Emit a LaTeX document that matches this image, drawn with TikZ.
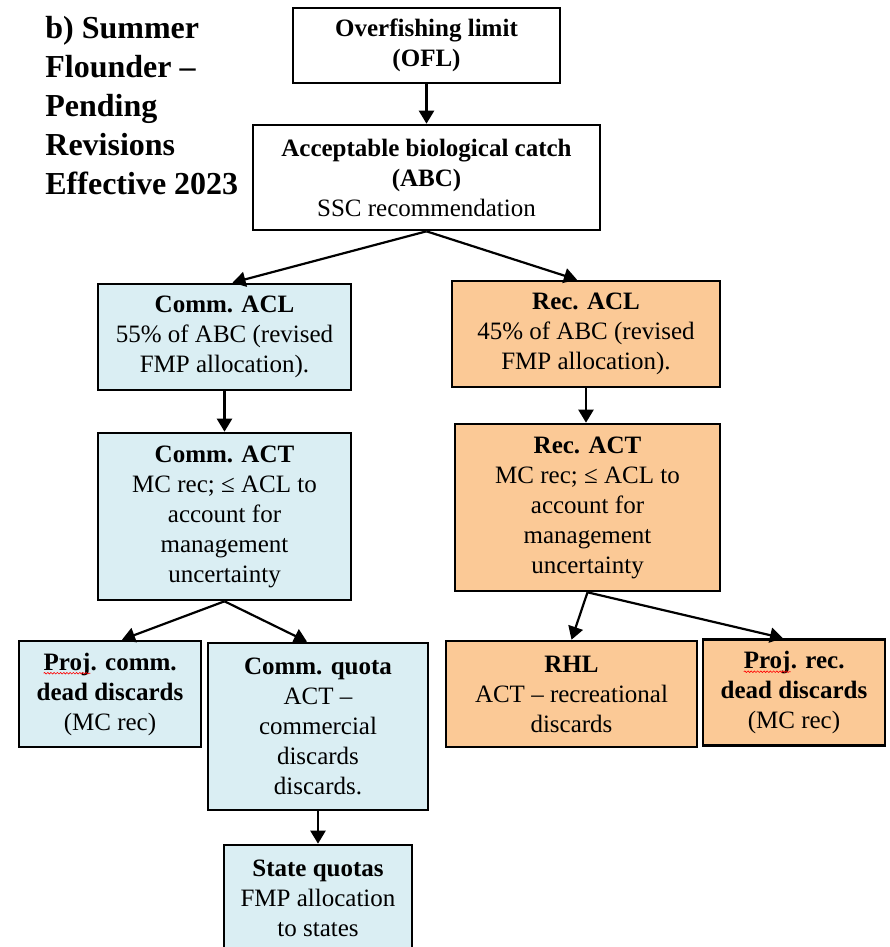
\documentclass[tikz,border=0pt]{standalone}
\usepackage{fontspec}
\setmainfont{Liberation Serif}
\usetikzlibrary{arrows.meta,calc,decorations.pathmorphing}
\definecolor{commblue}{HTML}{DAEEF3}
\definecolor{recorange}{HTML}{FBC996}
\newcommand\spellwave[1]{\tikz[baseline=(w.base)]{\node[inner sep=0pt, outer sep=0pt, draw=none, fill=none, minimum size=0pt] (w) {#1};
    \draw[red, line width=0.3pt, decorate, decoration={snake, amplitude=0.4pt, segment length=1.6pt}] ([yshift=-1.6pt]w.base west) -- ([yshift=-1.6pt]w.base east);}}

\begin{document}
\begin{tikzpicture}[x=0.5pt, y=-0.5pt,
    box/.style={draw, line width=1.3pt, align=center, inner sep=2pt, font=\fontsize{12.5pt}{15pt}\selectfont},
    commbox/.style={box, fill=commblue},
    recbox/.style={box, fill=recorange},
    arr/.style={line width=1.1pt, -{Triangle[length=6.5pt,width=7.5pt]}}]
    \useasboundingbox (0,0) rectangle (889,947);

    % Titre
    \node[anchor=north west, inner sep=0, align=left, font=\fontsize{16pt}{19.5pt}\selectfont\bfseries] (title) at (45,16) {b) Summer\\Flounder --\\Pending\\Revisions\\Effective 2023};

    % Haut de la chaine
    \node[box, minimum width=133.5pt, minimum height=37.5pt] (ofl) at (426.5,45.5) {\textbf{Overfishing limit}\\\textbf{(OFL)}};
    \node[box, minimum width=173.5pt, minimum height=52.5pt] (abc) at (426.5,177.5) {\textbf{Acceptable biological catch}\\\textbf{(ABC)}\\SSC recommendation};

    % Branche commerciale
    \node[commbox, minimum width=126.5pt, minimum height=53pt] (cacl) at (224.5,337) {\textbf{Comm. ACL}\\55\% of ABC (revised\\FMP allocation).};
    \node[commbox, minimum width=126.5pt, minimum height=83.5pt] (cact) at (224.5,516.5) {\textbf{Comm. ACT}\\MC rec; ≤ ACL to\\account for\\management\\uncertainty};
    \node[commbox, minimum width=91pt, minimum height=53pt] (pcomm) at (110,694) {\textbf{\spellwave{Proj}. comm.}\\\textbf{dead discards}\\(MC rec)};
    \node[commbox, minimum width=110pt, minimum height=83.5pt] (cquota) at (318,726.5) {\textbf{Comm. quota}\\ACT --\\commercial\\discards\\discards.};
    \node[commbox, minimum width=94pt, minimum height=53pt] (state) at (318,898) {\textbf{State quotas}\\FMP allocation\\to states};

    % Branche recreative
    \node[recbox, minimum width=134pt, minimum height=53pt] (racl) at (586,334) {\textbf{Rec. ACL}\\45\% of ABC (revised\\FMP allocation).};
    \node[recbox, minimum width=132.5pt, minimum height=83.5pt] (ract) at (587.5,507.5) {\textbf{Rec. ACT}\\MC rec; ≤ ACL to\\account for\\management\\uncertainty};
    \node[recbox, minimum width=125.5pt, minimum height=53pt] (rhl) at (571.5,694) {\textbf{RHL}\\ACT -- recreational\\discards};
    \node[recbox, minimum width=91pt, minimum height=53pt] (prec) at (794,692.5) {\textbf{\spellwave{Proj}. rec.}\\\textbf{dead discards}\\(MC rec)};

    % Fleches
    \draw[arr] (ofl) -- (abc);
    \draw[arr] (abc.south) -- ($(cacl.north)+(8,0)$);
    \draw[arr] (abc.south) -- ($(racl.north)+(-9,0)$);
    \draw[arr] (cacl) -- (cact);
    \draw[arr] (racl.south) -- (racl.south |- ract.north);
    \draw[arr] (cact.south) -- ($(pcomm.north)+(12,0)$);
    \draw[arr] (cact.south) -- ($(cquota.north)+(-11,0)$);
    \draw[arr] (cquota) -- (state);
    \draw[arr] (ract.south) -- (rhl.north);
    \draw[arr] (ract.south) -- ($(prec.north)+(-11,0)$);
\end{tikzpicture}
\end{document}
